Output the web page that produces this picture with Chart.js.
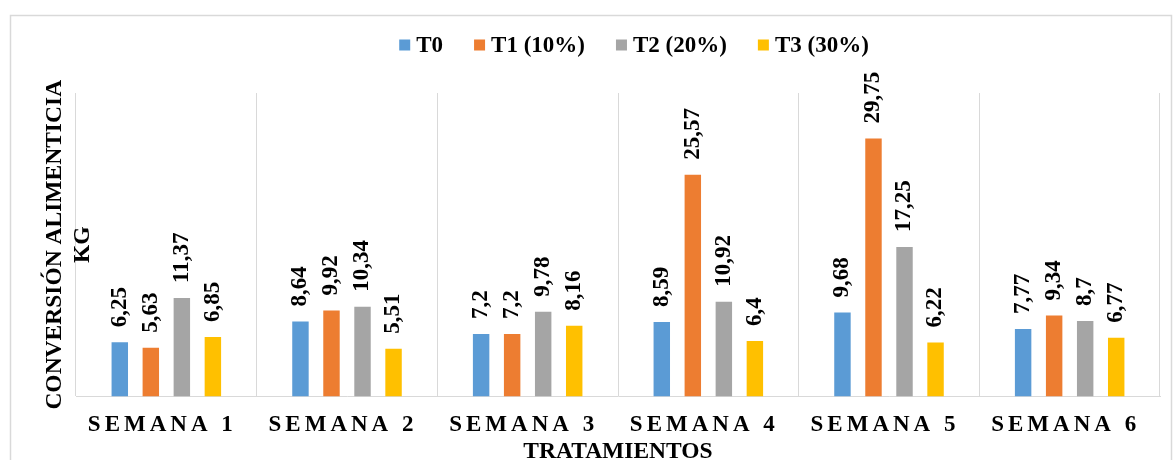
<!DOCTYPE html>
<html>
<head>
<meta charset="utf-8">
<title>Conversión alimenticia por semana</title>
<script src="https://cdn.jsdelivr.net/npm/chart.js@4.4.1/dist/chart.umd.min.js"></script>
<style>
  html, body { margin: 0; padding: 0; background: #ffffff; }
  #wrap { width: 1174px; height: 460px; position: relative; }
</style>
</head>
<body>
<div id="wrap"><canvas id="chart" width="1174" height="460"></canvas></div>
<script>
// Weekly feed conversion (kg) per treatment
const categories = ['SEMANA 1', 'SEMANA 2', 'SEMANA 3', 'SEMANA 4', 'SEMANA 5', 'SEMANA 6'];
const seriesNames = ['T0', 'T1 (10%)', 'T2 (20%)', 'T3 (30%)'];
const t0Values = [6.25, 8.64, 7.2, 8.59, 9.68, 7.77];
const t1Values = [5.63, 9.92, 7.2, 25.57, 29.75, 9.34];
const t2Values = [11.37, 10.34, 9.78, 10.92, 17.25, 8.7];
const t3Values = [6.85, 5.51, 8.16, 6.4, 6.22, 6.77];
const yAxisTitle = ['CONVERSIÓN ALIMENTICIA', 'KG'];
const xAxisTitle = 'TRATAMIENTOS';

const colors = ['#5B9BD5', '#ED7D31', '#A5A5A5', '#FFC000'];
const FONT = "'Liberation Serif', 'Times New Roman', serif";
const gridColor = '#d9d9d9';

const fmt = v => String(v).replace('.', ',');

// Light frame around the whole chart
const framePlugin = {
  id: 'frame',
  beforeDraw(chart) {
    const ctx = chart.ctx;
    ctx.save();
    ctx.fillStyle = '#ffffff';
    ctx.fillRect(0, 0, chart.width, chart.height);
    ctx.strokeStyle = gridColor;
    ctx.lineWidth = 1.5;
    ctx.strokeRect(10.5, 15.5, chart.width - 13, chart.height + 20);
    ctx.restore();

    // spaced-out category labels on the x axis
    const sx = chart.scales.x;
    if (sx && !sx._spaced) {
      const orig = sx.drawLabels;
      sx.drawLabels = function (area) {
        this.ctx.save();
        this.ctx.letterSpacing = '4px';
        orig.call(this, area);
        this.ctx.restore();
      };
      sx._spaced = true;
    }
  }
};

// Rotated value labels above each bar
const valueLabels = {
  id: 'valueLabels',
  afterDatasetsDraw(chart) {
    const ctx = chart.ctx;
    ctx.save();
    ctx.font = 'bold 23px ' + FONT;
    ctx.fillStyle = '#000000';
    ctx.textAlign = 'left';
    ctx.textBaseline = 'middle';
    chart.data.datasets.forEach((ds, i) => {
      const meta = chart.getDatasetMeta(i);
      meta.data.forEach((bar, j) => {
        ctx.save();
        ctx.translate(bar.x, bar.y - 15);
        ctx.rotate(-Math.PI / 2);
        ctx.fillText(fmt(ds.data[j]), 0, 0);
        ctx.restore();
      });
    });
    ctx.restore();
  }
};

// Two-line vertical axis title
const yTitle = {
  id: 'yTitle',
  afterDraw(chart) {
    const a = chart.chartArea;
    const ctx = chart.ctx;
    ctx.save();
    ctx.font = 'bold 23.5px ' + FONT;
    ctx.fillStyle = '#000000';
    ctx.textAlign = 'center';
    ctx.textBaseline = 'middle';
    const cy = (a.top + a.bottom) / 2;
    const xs = [a.left - 21, a.left + 6.5];
    yAxisTitle.forEach((line, k) => {
      ctx.save();
      ctx.translate(xs[k], cy);
      ctx.rotate(-Math.PI / 2);
      ctx.fillText(line, 0, 0);
      ctx.restore();
    });
    ctx.restore();
  }
};

// Legend row across the top
const topLegend = {
  id: 'topLegend',
  afterDraw(chart) {
    const a = chart.chartArea;
    const ctx = chart.ctx;
    const box = 11, textGap = 6, itemGap = 31;
    ctx.save();
    ctx.font = 'bold 23px ' + FONT;
    ctx.textBaseline = 'middle';
    ctx.textAlign = 'left';
    const items = chart.data.datasets.map(ds => ({
      label: ds.label, color: ds.backgroundColor, w: ctx.measureText(ds.label).width
    }));
    let total = items.reduce((s, it) => s + box + textGap + it.w, 0) + itemGap * (items.length - 1);
    const cx = (a.left + a.right) / 2 + 16;
    const cy = 45;
    let x = cx - total / 2;
    items.forEach(it => {
      ctx.fillStyle = it.color;
      ctx.fillRect(x, cy - box / 2, box, box);
      ctx.fillStyle = '#000000';
      ctx.fillText(it.label, x + box + textGap, cy + 1);
      x += box + textGap + it.w + itemGap;
    });
    ctx.restore();
  }
};

const valueSets = [t0Values, t1Values, t2Values, t3Values];

new Chart(document.getElementById('chart'), {
  type: 'bar',
  data: {
    labels: categories,
    datasets: seriesNames.map((name, i) => ({
      label: name,
      data: valueSets[i],
      backgroundColor: colors[i],
      borderWidth: 0,
      categoryPercentage: 0.687,
      barPercentage: 0.53
    }))
  },
  options: {
    responsive: false,
    animation: false,
    devicePixelRatio: 1,
    layout: { padding: { top: 93, left: 76, right: 14, bottom: 0 } },
    plugins: {
      legend: { display: false },
      tooltip: { enabled: false }
    },
    scales: {
      x: {
        grid: { color: gridColor, lineWidth: 1, drawTicks: false, offset: true },
        border: { color: gridColor, width: 1 },
        ticks: {
          color: '#000000',
          font: { family: FONT, size: 23, weight: 'bold', lineHeight: 1 },
          padding: 17,
          labelOffset: -4,
          maxRotation: 0,
          autoSkip: false
        },
        title: {
          display: true,
          text: xAxisTitle,
          color: '#000000',
          font: { family: FONT, size: 23.5, weight: 'bold', lineHeight: 1 },
          padding: { top: -13, bottom: -4 }
        }
      },
      y: {
        display: false,
        min: 0,
        max: 35
      }
    }
  },
  plugins: [framePlugin, valueLabels, yTitle, topLegend]
});
</script>
</body>
</html>
